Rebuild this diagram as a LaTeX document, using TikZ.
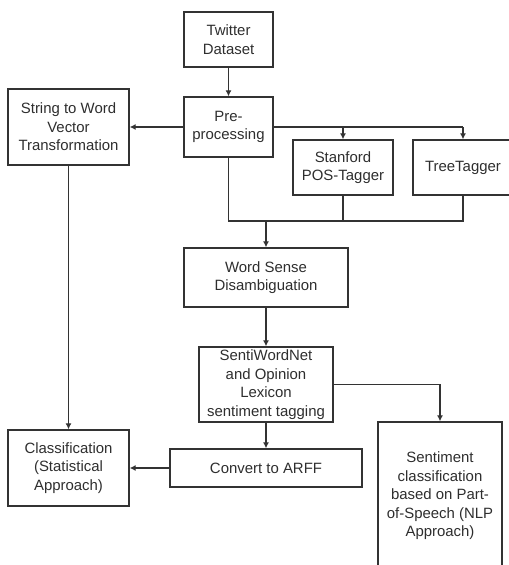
\documentclass[tikz,border=0pt]{standalone}
\usepackage{fontspec}
\setmainfont{Liberation Sans}
\usetikzlibrary{arrows.meta}
\definecolor{ln}{HTML}{333333}
\definecolor{tx}{HTML}{2E2E2E}
\begin{document}
\begin{tikzpicture}[x=0.75pt,y=-0.75pt,
  box/.style={draw=ln, line width=0.95pt, inner sep=0pt, align=center, text=tx,
    font=\fontsize{11.2}{13.9}\selectfont},
  conn/.style={draw=ln, line width=0.95pt},
  arr/.style={conn, -{Latex[length=4.5pt,width=4.5pt]}}]
\useasboundingbox (0,0) rectangle (509,565);
\node[box, minimum width={89*0.75pt}, minimum height={55*0.75pt}] (tw) at (228.5,39.5) {Twitter\\Dataset};
\node[box, minimum width={89*0.75pt}, minimum height={60*0.75pt}] (pre) at (228.5,127) {Pre-\\processing};
\node[box, minimum width={121*0.75pt}, minimum height={76*0.75pt}] (str) at (68.5,127) {String to Word\\Vector\\Transformation};
\node[box, minimum width={100*0.75pt}, minimum height={55*0.75pt}] (stan) at (343,167.5) {Stanford\\POS-Tagger};
\node[box, minimum width={100*0.75pt}, minimum height={55*0.75pt}] (tree) at (463,167.5) {TreeTagger};
\node[box, minimum width={164*0.75pt}, minimum height={59*0.75pt}] (wsd) at (266,277.5) {Word Sense\\Disambiguation};
\node[box, minimum width={134*0.75pt}, minimum height={75*0.75pt}] (senti) at (266,384.5) {SentiWordNet\\and Opinion\\Lexicon\\sentiment tagging};
\node[box, minimum width={192*0.75pt}, minimum height={38*0.75pt}] (conv) at (266,468) {Convert to ARFF};
\node[box, minimum width={121*0.75pt}, minimum height={76*0.75pt}] (cls) at (68.5,468) {Classification\\(Statistical\\Approach)};
\node[box, minimum width={124*0.75pt}, minimum height={148*0.75pt}] (sc) at (440,496) {Sentiment\\classification\\based on Part-\\of-Speech (NLP\\Approach)};

\coordinate (j1) at (228.5,221);
\coordinate (j2) at (266,221);
\coordinate (j3) at (463,221);
\coordinate (j4) at (343,221);
\coordinate (r1) at (463,127);
\coordinate (r2) at (343,127);
\coordinate (s1) at (440,384.5);

\draw[arr] (tw) -- (pre);
\draw[arr] (pre) -- (str);
\draw[conn] (pre.east) -- (r1);
\draw[arr] (r2) -- (stan);
\draw[arr] (r1) -- (tree);
\draw[conn] (pre.south) -- (j1) -- (j3) -- (tree.south);
\draw[conn] (stan.south) -- (j4);
\draw[arr] (j2) -- (wsd);
\draw[arr] (wsd) -- (senti);
\draw[arr] (senti.east) -- (s1) -- (sc.north);
\draw[arr] (senti) -- (conv);
\draw[arr] (conv) -- (cls);
\draw[arr] (str) -- (cls);
\end{tikzpicture}
\end{document}
